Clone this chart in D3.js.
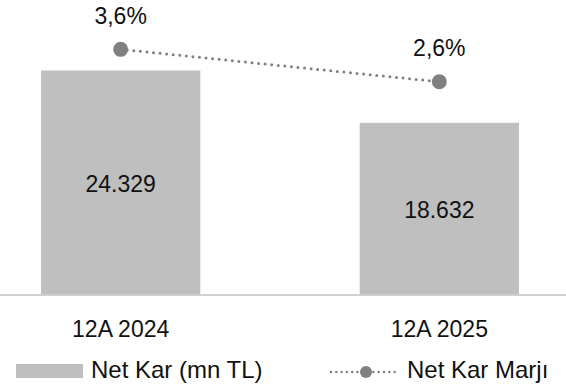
<!DOCTYPE html>
<html>
<head>
<meta charset="utf-8">
<script src="https://cdn.jsdelivr.net/npm/d3@7"></script>
<style>
  body { margin: 0; background: #fff; }
  svg text { font-family: "Liberation Sans", Arial, sans-serif; fill: #111; }
</style>
</head>
<body>
<div id="svg-container"></div>
<script>
var categories = ["12A 2024", "12A 2025"];
var netKar = [24329, 18632];
var netKarMarji = [3.6, 2.6];
var seriesNames = ["Net Kar (mn TL)", "Net Kar Marjı"];

var width = 566,
    height = 390,
    baseY = 294;

var fmtKar = function(v) { return d3.format(",d")(v).replace(/,/g, "."); };
var fmtMarji = function(v) { return d3.format(".1f")(v).replace(".", ",") + "%"; };

var svg = d3.select("#svg-container")
  .append("svg")
    .attr("width", width)
    .attr("height", height)
    .attr("font-size", 23)
    .attr("text-anchor", "middle");

var x = d3.scaleBand()
    .domain(categories)
    .range([41, 519])
    .paddingInner(0.5)
    .paddingOuter(0);

var y = d3.scaleLinear()
    .domain([0, 32000])
    .range([baseY, 0]);

var y2 = d3.scaleLinear()
    .domain([0, 5])
    .range([166, 4]);

var data = categories.map(function(c, i) {
  return {cat: c, kar: netKar[i], marji: netKarMarji[i]};
});

// bars
svg.selectAll(".bar")
  .data(data)
  .enter().append("rect")
    .attr("class", "bar")
    .attr("x", function(d) { return x(d.cat); })
    .attr("y", function(d) { return y(d.kar); })
    .attr("width", x.bandwidth())
    .attr("height", function(d) { return baseY - y(d.kar); })
    .style("fill", "#bfbfbf");

// baseline
svg.append("line")
    .attr("x1", 0).attr("x2", width)
    .attr("y1", baseY + 1).attr("y2", baseY + 1)
    .style("stroke", "#d0d0d0")
    .style("stroke-width", 2);

// bar labels
svg.selectAll(".bar-label")
  .data(data)
  .enter().append("text")
    .attr("class", "bar-label")
    .attr("x", function(d) { return x(d.cat) + x.bandwidth() / 2; })
    .attr("y", function(d) { return (y(d.kar) + baseY) / 2 + 10; })
    .text(function(d) { return fmtKar(d.kar); });

// category labels
svg.selectAll(".cat-label")
  .data(data)
  .enter().append("text")
    .attr("class", "cat-label")
    .attr("x", function(d) { return x(d.cat) + x.bandwidth() / 2; })
    .attr("y", 337)
    .text(function(d) { return d.cat; });

// margin line
var line = d3.line()
    .x(function(d) { return x(d.cat) + x.bandwidth() / 2; })
    .y(function(d) { return y2(d.marji); });

svg.append("path")
    .datum(data)
    .attr("d", line)
    .style("fill", "none")
    .style("stroke", "#808080")
    .style("stroke-width", 3)
    .style("stroke-linecap", "round")
    .style("stroke-dasharray", "0,6.6");

svg.selectAll(".dot")
  .data(data)
  .enter().append("circle")
    .attr("class", "dot")
    .attr("cx", function(d) { return x(d.cat) + x.bandwidth() / 2; })
    .attr("cy", function(d) { return y2(d.marji); })
    .attr("r", 7.5)
    .style("fill", "#808080");

svg.selectAll(".dot-label")
  .data(data)
  .enter().append("text")
    .attr("class", "dot-label")
    .attr("x", function(d) { return x(d.cat) + x.bandwidth() / 2; })
    .attr("y", function(d) { return y2(d.marji) - 25.5; })
    .text(function(d) { return fmtMarji(d.marji); });

// legend
var legend = svg.append("g")
    .attr("text-anchor", "start")
    .attr("font-size", 24);

legend.append("rect")
    .attr("x", 16).attr("y", 364)
    .attr("width", 67).attr("height", 14)
    .style("fill", "#bfbfbf");

legend.append("text")
    .attr("x", 91).attr("y", 378)
    .text(seriesNames[0]);

legend.append("line")
    .attr("x1", 331).attr("x2", 396)
    .attr("y1", 372).attr("y2", 372)
    .style("stroke", "#808080")
    .style("stroke-width", 2.5)
    .style("stroke-linecap", "round")
    .style("stroke-dasharray", "0,5.3");

legend.append("circle")
    .attr("cx", 366).attr("cy", 372)
    .attr("r", 6)
    .style("fill", "#808080");

legend.append("text")
    .attr("x", 407).attr("y", 378)
    .text(seriesNames[1]);
</script>
</body>
</html>
